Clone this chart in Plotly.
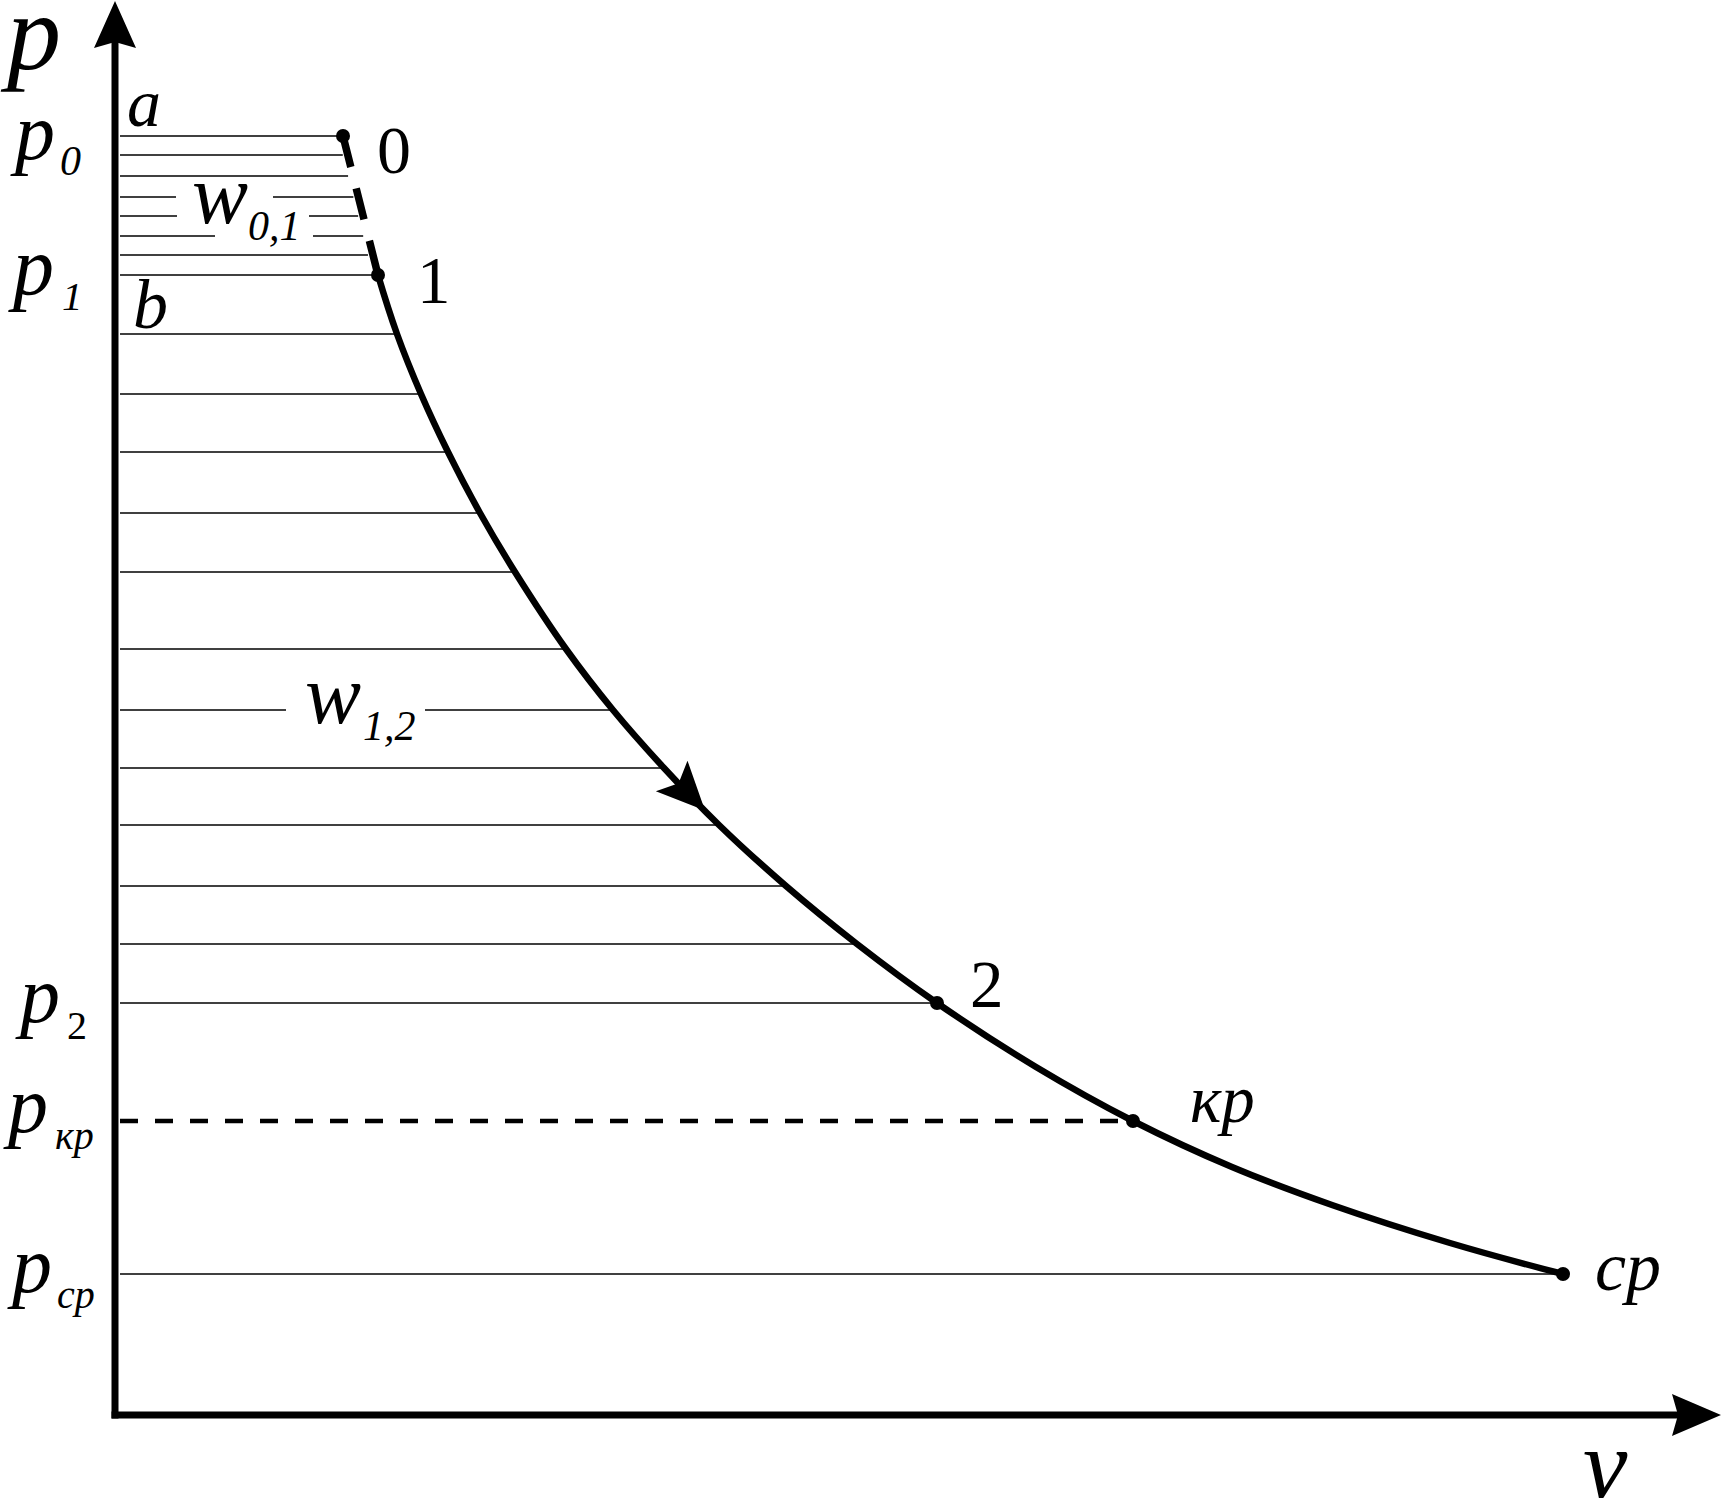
import numpy as np
import plotly.graph_objects as go

# ---------------- data (schematic p-v diagram, arbitrary units) ----------------
V_CURVE = [2.63, 2.82, 3.06, 3.33, 3.65, 4.00, 4.51, 4.98, 5.49, 6.04, 6.71,
           7.42, 8.22, 9.21, 10.18, 11.17, 12.17, 13.35, 14.48]
P_CURVE = [11.40, 10.81, 10.21, 9.63, 9.02, 8.43, 7.66, 7.05, 6.47, 5.90, 5.29,
           4.71, 4.12, 3.48, 2.94, 2.48, 2.10, 1.72, 1.41]

POINT_NAMES = ["0", "1", "2", "кр", "ср"]
POINT_V = [2.28, 2.63, 8.22, 10.18, 14.48]
POINT_P = [12.79, 11.40, 4.12, 2.94, 1.41]

HATCH_P = [12.79, 12.60, 12.39, 12.18, 11.99, 11.79, 11.60, 11.40,
           10.81, 10.21, 9.63, 9.02, 8.43, 7.66, 7.05, 6.47, 5.90,
           5.29, 4.71, 4.12, 1.41]
# gaps left in hatch lines for the work labels: p -> (v_from, v_to)
HATCH_GAPS = {12.18: (0.61, 1.58), 11.99: (0.62, 1.94), 11.79: (1.00, 1.98),
              7.05: (1.71, 3.10)}
P_KR = 2.94
V_KR = 10.18
ARROW_V = 5.90

# ---------------- geometry helpers ----------------
OX, OY, SC = 115, 1415, 100.0     # origin pixel & pixels per unit
W, H = 1722, 1506
XR = [-OX / SC, (W - OX) / SC]
YR = [(OY - H) / SC, OY / SC]


def px2v(px):
    return (px - OX) / SC


def py2p(py):
    return (OY - py) / SC


FONT = "Liberation Serif, Times New Roman, serif"
fig = go.Figure()

# full path (point 0 + curve) for hatch end points
path_v = [POINT_V[0]] + V_CURVE
path_p = [POINT_P[0]] + P_CURVE
rev_p = path_p[::-1]
rev_v = path_v[::-1]

hx, hy = [], []
for p in HATCH_P:
    end = float(np.interp(p, rev_p, rev_v))
    if p > POINT_P[1] + 1e-9:
        end -= 0.05
    start = 0.05
    if p in HATCH_GAPS:
        g0, g1 = HATCH_GAPS[p]
        hx += [start, g0, None, g1, end, None]
        hy += [p, p, None, p, p, None]
    else:
        hx += [start, end, None]
        hy += [p, p, None]

fig.add_trace(go.Scatter(x=hx, y=hy, mode="lines",
                         line=dict(color="black", width=1.5),
                         hoverinfo="skip"))

# critical pressure dashed line
fig.add_trace(go.Scatter(x=[0.05, V_KR], y=[P_KR, P_KR], mode="lines",
                         line=dict(color="black", width=4.5, dash="18px,17px"),
                         hoverinfo="skip"))

# dashed segment 0 -> 1
fig.add_trace(go.Scatter(x=POINT_V[:2], y=POINT_P[:2], mode="lines",
                         line=dict(color="black", width=7.5, dash="32px,22px"),
                         hoverinfo="skip"))

# expansion curve 1 -> cp
fig.add_trace(go.Scatter(x=V_CURVE, y=P_CURVE, mode="lines",
                         line=dict(color="black", width=6.5, shape="spline",
                                   smoothing=1.2),
                         hoverinfo="skip"))

# state points
fig.add_trace(go.Scatter(x=POINT_V, y=POINT_P, mode="markers",
                         marker=dict(color="black", size=14),
                         hoverinfo="skip"))

# arrow on the curve
tip_p = float(np.interp(ARROW_V, V_CURVE, P_CURVE))
back_v = ARROW_V - 0.3
back_p = float(np.interp(back_v, V_CURVE, P_CURVE))
d = np.array([ARROW_V - back_v, tip_p - back_p])
d = d / np.linalg.norm(d)
nrm = np.array([-d[1], d[0]])
tip = np.array([ARROW_V, tip_p])
base = tip - 0.48 * d
c1 = base + 0.22 * nrm
c2 = base - 0.22 * nrm
notch = tip - 0.38 * d
fig.add_shape(type="path",
              path=f"M {tip[0]},{tip[1]} L {c1[0]},{c1[1]} L {notch[0]},{notch[1]} L {c2[0]},{c2[1]} Z",
              fillcolor="black", line=dict(width=0), xref="x", yref="y")

# axes
y_top = py2p(1)
x_tip = px2v(W - 1)
fig.add_shape(type="line", x0=0, y0=py2p(OY + 3.5), x1=0, y1=y_top - 0.4,
              line=dict(color="black", width=7))
fig.add_shape(type="line", x0=px2v(OX - 3.5), y0=0, x1=x_tip - 0.4, y1=0,
              line=dict(color="black", width=7))
fig.add_shape(type="path",
              path=f"M 0,{y_top} L 0.21,{y_top-0.47} L 0,{y_top-0.41} L -0.21,{y_top-0.47} Z",
              fillcolor="black", line=dict(width=0))
fig.add_shape(type="path",
              path=f"M {x_tip},0 L {x_tip-0.49},0.21 L {x_tip-0.43},0 L {x_tip-0.49},-0.21 Z",
              fillcolor="black", line=dict(width=0))


def label(text, left, baseline, size, italic=True, mode=None):
    """Place text so its glyph baseline sits at pixel row `baseline`."""
    t = f"<i>{text}</i>" if italic else text
    kw = dict(xanchor="left")
    if mode == "top-trim":        # trim empty ascent area (text at top edge)
        y_px = baseline + 0.216 * size
        kw.update(yanchor="bottom", height=0.72 * size, valign="bottom")
    elif mode == "bottom-trim":   # trim empty descent area (text at bottom edge)
        y_px = baseline - 0.891 * size
        kw.update(yanchor="top", height=0.891 * size, valign="top")
    else:
        y_px = baseline + 0.216 * size
        kw.update(yanchor="bottom")
    fig.add_annotation(x=left / W, y=1 - y_px / H, xref="paper", yref="paper",
                       text=t, showarrow=False,
                       font=dict(family=FONT, size=size, color="black"),
                       borderpad=0, borderwidth=0, **kw)


# axis names
label("p", 0, 69, 108, mode="top-trim")
label("v", 1583, 1498, 100, mode="bottom-trim")
# pressure labels
label("p", 10, 159, 80); label("0", 60, 175, 42)
label("p", 8, 294, 82); label("1", 62, 310, 41)
label("p", 15, 1022, 80); label("2", 67, 1039, 40, italic=False)
label("p", 3, 1132, 80); label("кр", 55, 1149, 40)
label("p", 7, 1292, 80); label("ср", 57, 1308, 40)
# area corners
label("a", 127, 126, 68)
label("b", 133, 328, 70)
# work labels
label("w", 192, 223, 84); label("0,1", 248, 240, 42)
label("w", 305, 723, 84); label("1,2", 363, 740, 42)
# state point names
label(POINT_NAMES[0], 377, 173, 68, italic=False)
label(POINT_NAMES[1], 417, 303, 67, italic=False)
label(POINT_NAMES[2], 970, 1007, 67, italic=False)
label(POINT_NAMES[3], 1190, 1122, 67)
label(POINT_NAMES[4], 1595, 1290, 70)

fig.update_layout(width=W, height=H, margin=dict(l=0, r=0, t=0, b=0),
                  paper_bgcolor="white", plot_bgcolor="white",
                  showlegend=False,
                  xaxis=dict(range=XR, visible=False, fixedrange=True),
                  yaxis=dict(range=YR, visible=False, fixedrange=True))

fig.write_html("out.html",
               config={"displayModeBar": False, "staticPlot": True},
               post_script="document.body.style.margin='0';document.body.style.overflow='hidden';")
